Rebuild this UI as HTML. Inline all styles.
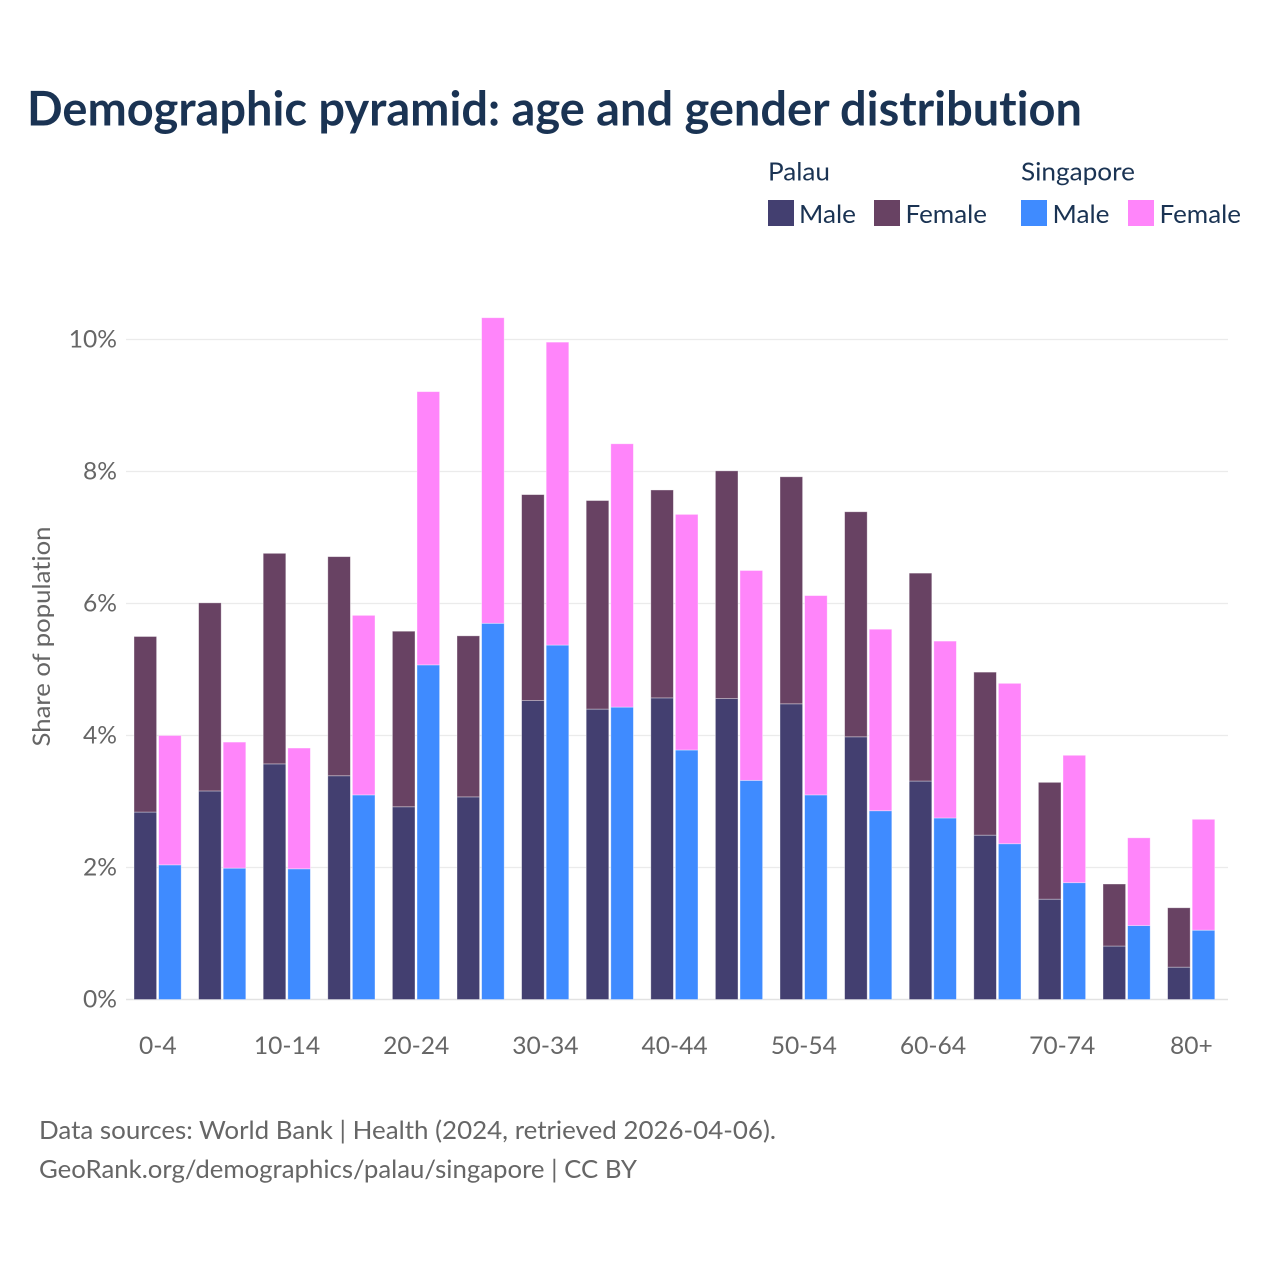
<!DOCTYPE html>
<html lang="en">
<head>
<meta charset="utf-8">
<title>Demographic pyramid: age and gender distribution</title>
<style>
html,body{margin:0;padding:0;background:#fff;}
svg{display:block;}
text{font-family:"Lato","Carlito","Liberation Sans",sans-serif;font-variant-ligatures:none;font-feature-settings:"liga" 0,"clig" 0;}
</style>
</head>
<body>
<svg id="chart" xmlns="http://www.w3.org/2000/svg" width="1280" height="1280" viewBox="0 0 1280 1280">
  <rect width="1280" height="1280" fill="#fff"/>
  <text x="27" y="125.5" font-size="48" font-weight="700" fill="#1a3353" textLength="1055" lengthAdjust="spacingAndGlyphs">Demographic pyramid: age and gender distribution</text>

  <g font-size="25.5" fill="#1a3353">
    <text x="768" y="180.5" textLength="62" lengthAdjust="spacingAndGlyphs">Palau</text>
    <text x="1021" y="180.5" textLength="114" lengthAdjust="spacingAndGlyphs">Singapore</text>
    <rect x="768" y="200" width="26" height="26" fill="#433f70"/>
    <text x="799" y="223" textLength="57" lengthAdjust="spacingAndGlyphs">Male</text>
    <rect x="874" y="200" width="26" height="26" fill="#684263"/>
    <text x="905.5" y="223" textLength="81.5" lengthAdjust="spacingAndGlyphs">Female</text>
    <rect x="1021" y="200" width="26" height="26" fill="#3f8bff"/>
    <text x="1052.5" y="223" textLength="57" lengthAdjust="spacingAndGlyphs">Male</text>
    <rect x="1128" y="200" width="26" height="26" fill="#ff85fa"/>
    <text x="1159.5" y="223" textLength="81.5" lengthAdjust="spacingAndGlyphs">Female</text>
  </g>

  <g id="grid"></g>
  <g id="bars"></g>
  <g id="yticks"></g>
  <g id="xticks"></g>

  <text transform="translate(50 636.5) rotate(-90)" text-anchor="middle" font-size="24.5" fill="#666" textLength="220" lengthAdjust="spacingAndGlyphs">Share of population</text>

  <text x="39" y="1139" font-size="25" fill="#666" textLength="737" lengthAdjust="spacingAndGlyphs">Data sources: World Bank | Health (2024, retrieved 2026-04-06).</text>
  <text x="39" y="1178" font-size="25" fill="#666" textLength="598" lengthAdjust="spacingAndGlyphs">GeoRank.org/demographics/palau/singapore | CC BY</text>
</svg>
<script>
const categories = ["0-4","5-9","10-14","15-19","20-24","25-29","30-34","35-39","40-44","45-49","50-54","55-59","60-64","65-69","70-74","75-79","80+"];
const palauMale = [2.84,3.16,3.57,3.39,2.92,3.07,4.53,4.40,4.57,4.56,4.48,3.98,3.31,2.49,1.52,0.81,0.49];
const palauFemale = [2.66,2.85,3.19,3.32,2.66,2.44,3.12,3.16,3.15,3.45,3.44,3.41,3.15,2.47,1.77,0.94,0.90];
const singaporeMale = [2.04,1.99,1.98,3.10,5.07,5.70,5.37,4.43,3.78,3.32,3.10,2.86,2.75,2.36,1.77,1.12,1.05];
const singaporeFemale = [1.96,1.91,1.83,2.72,4.14,4.63,4.59,3.99,3.57,3.18,3.02,2.75,2.68,2.43,1.93,1.33,1.68];
const yTicks = [0,2,4,6,8,10];

const NS = "http://www.w3.org/2000/svg";
const plotLeft = 126, plotRight = 1228, plotBottom = 999.5, pxPerUnit = 66;
const groupFirst = 134, groupStep = 64.6, barWidth = 22.6, barGap = 24.6;
function y(v){ return plotBottom - v * pxPerUnit; }
function x(i){ return groupFirst + i * groupStep; }
function el(name, attrs){
  const e = document.createElementNS(NS, name);
  for (const k in attrs) e.setAttribute(k, attrs[k]);
  return e;
}

const grid = document.getElementById("grid");
const yAxis = document.getElementById("yticks");
yTicks.forEach(function(t){
  const line = el("line", {x1: plotLeft, x2: plotRight, y1: y(t), y2: y(t), stroke: t === 0 ? "#e2e2e2" : "#ebebeb", "stroke-width": t === 0 ? 1.5 : 1.2});
  
  
  grid.appendChild(line);
  const label = el("text", {x: 117, y: y(t) + 8, "text-anchor": "end", "font-size": 24.6, fill: "#666"});
  
  
  label.textContent = t + "%";
  yAxis.appendChild(label);
});

const bars = document.getElementById("bars");
function drawBar(px, base, value, color, name){
  const r = el("rect", {x: px, y: y(base + value), width: barWidth, height: value * pxPerUnit, fill: color, stroke: "#fff", "stroke-opacity": 0.45, "stroke-width": 0.8});
  
  
  bars.appendChild(r);
}
categories.forEach(function(c, i){
  drawBar(x(i), 0, palauMale[i], "#433f70", "bar-palau-male-" + c);
  drawBar(x(i), palauMale[i], palauFemale[i], "#684263", "bar-palau-female-" + c);
  drawBar(x(i) + barGap, 0, singaporeMale[i], "#3f8bff", "bar-singapore-male-" + c);
  drawBar(x(i) + barGap, singaporeMale[i], singaporeFemale[i], "#ff85fa", "bar-singapore-female-" + c);
});

const xAxis = document.getElementById("xticks");
categories.forEach(function(c, i){
  if (i % 2 !== 0) return;
  const label = el("text", {x: x(i) + 23.8, y: 1054, "text-anchor": "middle", "font-size": 24.6, fill: "#666"});
  
  
  label.textContent = c;
  xAxis.appendChild(label);
});
</script>
</body>
</html>
